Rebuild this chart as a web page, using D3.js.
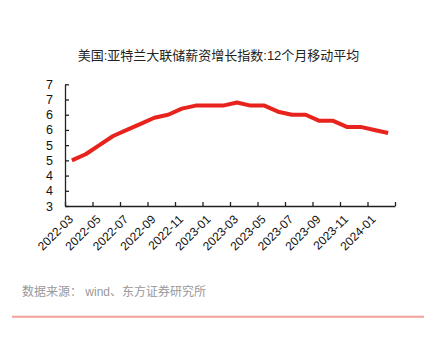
<!DOCTYPE html>
<html>
<head>
<meta charset="utf-8">
<script src="https://cdn.jsdelivr.net/npm/d3@7"></script>
<style>
html,body{margin:0;padding:0;background:#fff;}
svg{display:block;font-family:Arial,"Liberation Sans","Noto Sans CJK SC",sans-serif;}
</style>
</head>
<body>
<svg id="chart" width="424" height="340"></svg>
<script>
const title = "美国:亚特兰大联储薪资增长指数:12个月移动平均";
const source = "数据来源： wind、东方证券研究所";
const months = ["2022-03","2022-04","2022-05","2022-06","2022-07","2022-08","2022-09","2022-10","2022-11","2022-12",
  "2023-01","2023-02","2023-03","2023-04","2023-05","2023-06","2023-07","2023-08","2023-09","2023-10","2023-11","2023-12",
  "2024-01","2024-02"];
const values = [4.5,4.7,5.0,5.3,5.5,5.7,5.9,6.0,6.2,6.3,6.3,6.3,6.4,6.3,6.3,6.1,6.0,6.0,5.8,5.8,5.6,5.6,5.5,5.4];
const xTickLabels = ["2022-03","2022-05","2022-07","2022-09","2022-11","2023-01","2023-03","2023-05","2023-07","2023-09","2023-11","2024-01"];
const yTickValues = [3,3.5,4,4.5,5,5.5,6,6.5,7];
const yTickLabels = ["3","4","4","5","5","6","6","7","7"];

const svg = d3.select("#chart");
const pLeft = 65, pRight = 395, pTop = 84.3, pBottom = 206;

const x = d3.scaleBand().domain(months).range([pLeft, pRight]).padding(0);
const xIdx = d3.scaleLinear().domain([0, months.length]).range([pLeft, pRight]);
const y = d3.scaleLinear().domain([3, 7]).range([pBottom, pTop]);

// title
svg.append("text").attr("x", 218.5).attr("y", 59.5).attr("text-anchor", "middle")
  .attr("font-size", 13).attr("fill", "#222").text(title);

// y axis
const yAxis = svg.append("g").attr("transform", `translate(${pLeft},0)`)
  .call(d3.axisLeft(y).tickValues(yTickValues)
    .tickFormat((d, i) => yTickLabels[i]).tickSizeInner(-4).tickSizeOuter(0).tickPadding(12));
yAxis.selectAll("text").attr("font-size", 12.5).attr("fill", "#111").attr("font-family", "Arial,'Liberation Sans',sans-serif");
yAxis.selectAll("line,path").attr("stroke", "#222").attr("stroke-width", 1.3);

// x axis ticks at band boundaries
const tickIdx = d3.range(0, months.length + 1, 2);
const xAxis = svg.append("g").attr("transform", `translate(0,${pBottom})`)
  .call(d3.axisBottom(xIdx).tickValues(tickIdx).tickFormat("").tickSizeInner(-4).tickSizeOuter(0));
xAxis.selectAll("line,path").attr("stroke", "#222").attr("stroke-width", 1.3);

// x labels
svg.append("g").selectAll("text").data(xTickLabels).join("text")
  .attr("transform", d => `translate(${x(d) + x.bandwidth() / 2 + 2},${pBottom + 14}) rotate(-45)`)
  .attr("text-anchor", "end")
  .attr("font-size", 12).attr("fill", "#111").attr("font-family", "Arial,'Liberation Sans',sans-serif")
  .text(d => d);

// line
const line = d3.line()
  .x((d, i) => x(months[i]) + x.bandwidth() / 2)
  .y(d => y(d));
svg.append("path").datum(values).attr("d", line)
  .attr("fill", "none").attr("stroke", "#e8221c").attr("stroke-width", 4)
  .attr("stroke-linejoin", "round").attr("stroke-linecap", "butt");

// source
svg.append("text").attr("x", 22).attr("y", 296).attr("font-size", 12)
  .attr("fill", "#999").text(source);

// divider
svg.append("line").attr("x1", 12).attr("x2", 424).attr("y1", 316.7).attr("y2", 316.7)
  .attr("stroke", "#f4a09a").attr("stroke-width", 2);
</script>
</body>
</html>
